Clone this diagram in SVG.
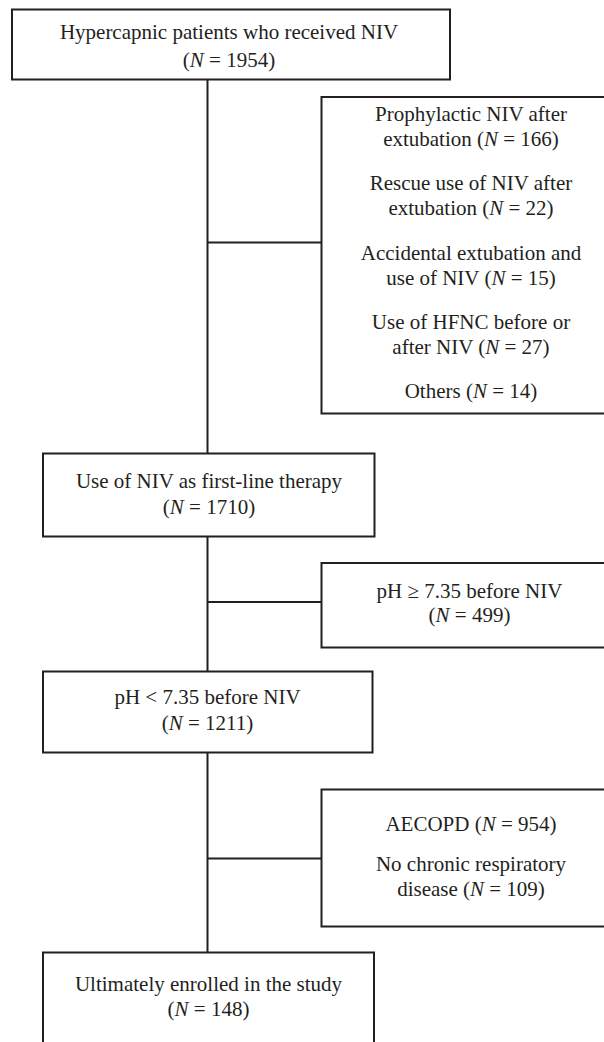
<svg xmlns="http://www.w3.org/2000/svg" width="604" height="1042" viewBox="0 0 604 1042">
<style>
.box{fill:#fff;stroke:#231f20;stroke-width:2}
.ln{stroke:#231f20;stroke-width:2;fill:none}
text{font-family:"Liberation Serif","Times New Roman",serif;font-size:21px;fill:#231f20;text-anchor:middle}
.i{font-style:italic}
</style>
<rect width="604" height="1042" fill="#fff"/>
<g id="connectors">
<line class="ln" x1="207.5" y1="79.5" x2="207.5" y2="453.5"/>
<line class="ln" x1="207.5" y1="536.5" x2="207.5" y2="671.5"/>
<line class="ln" x1="207.5" y1="752.5" x2="207.5" y2="952.5"/>
<line class="ln" x1="207.5" y1="242.5" x2="321.5" y2="242.5"/>
<line class="ln" x1="207.5" y1="602" x2="321.5" y2="602"/>
<line class="ln" x1="207.5" y1="858.5" x2="321.5" y2="858.5"/>
</g>
<g id="n_start">
<rect class="box" x="12" y="9.5" width="438" height="70"/>
<text x="229" y="39">Hypercapnic patients who received NIV</text>
<text x="229" y="67">(<tspan class="i">N</tspan> = 1954)</text>
</g>
<g id="n_excl1">
<rect class="box" x="321.5" y="97" width="300" height="316.5"/>
<text x="471" y="121">Prophylactic NIV after</text>
<text x="471" y="146">extubation (<tspan class="i">N</tspan> = 166)</text>
<text x="471" y="190">Rescue use of NIV after</text>
<text x="471" y="215">extubation (<tspan class="i">N</tspan> = 22)</text>
<text x="471" y="259.5">Accidental extubation and</text>
<text x="471" y="285">use of NIV (<tspan class="i">N</tspan> = 15)</text>
<text x="471" y="328.5">Use of HFNC before or</text>
<text x="471" y="354">after NIV (<tspan class="i">N</tspan> = 27)</text>
<text x="471" y="398">Others (<tspan class="i">N</tspan> = 14)</text>
</g>
<g id="n_first">
<rect class="box" x="43" y="453.5" width="331.5" height="83"/>
<text x="209" y="487.5">Use of NIV as first-line therapy</text>
<text x="209" y="513.5">(<tspan class="i">N</tspan> = 1710)</text>
</g>
<g id="n_excl2">
<rect class="box" x="321.5" y="563" width="300" height="84.5"/>
<text x="469.5" y="597.5">pH ≥ 7.35 before NIV</text>
<text x="469.5" y="622">(<tspan class="i">N</tspan> = 499)</text>
</g>
<g id="n_ph">
<rect class="box" x="43" y="671.5" width="329.5" height="81"/>
<text x="207.5" y="704">pH &lt; 7.35 before NIV</text>
<text x="207.5" y="729.5">(<tspan class="i">N</tspan> = 1211)</text>
</g>
<g id="n_excl3">
<rect class="box" x="321.5" y="789.5" width="300" height="137"/>
<text x="471" y="831">AECOPD (<tspan class="i">N</tspan> = 954)</text>
<text x="471" y="871">No chronic respiratory</text>
<text x="471" y="896">disease (<tspan class="i">N</tspan> = 109)</text>
</g>
<g id="n_final">
<rect class="box" x="43" y="952.5" width="331" height="110"/>
<text x="208.5" y="991">Ultimately enrolled in the study</text>
<text x="208.5" y="1016">(<tspan class="i">N</tspan> = 148)</text>
</g>
</svg>
